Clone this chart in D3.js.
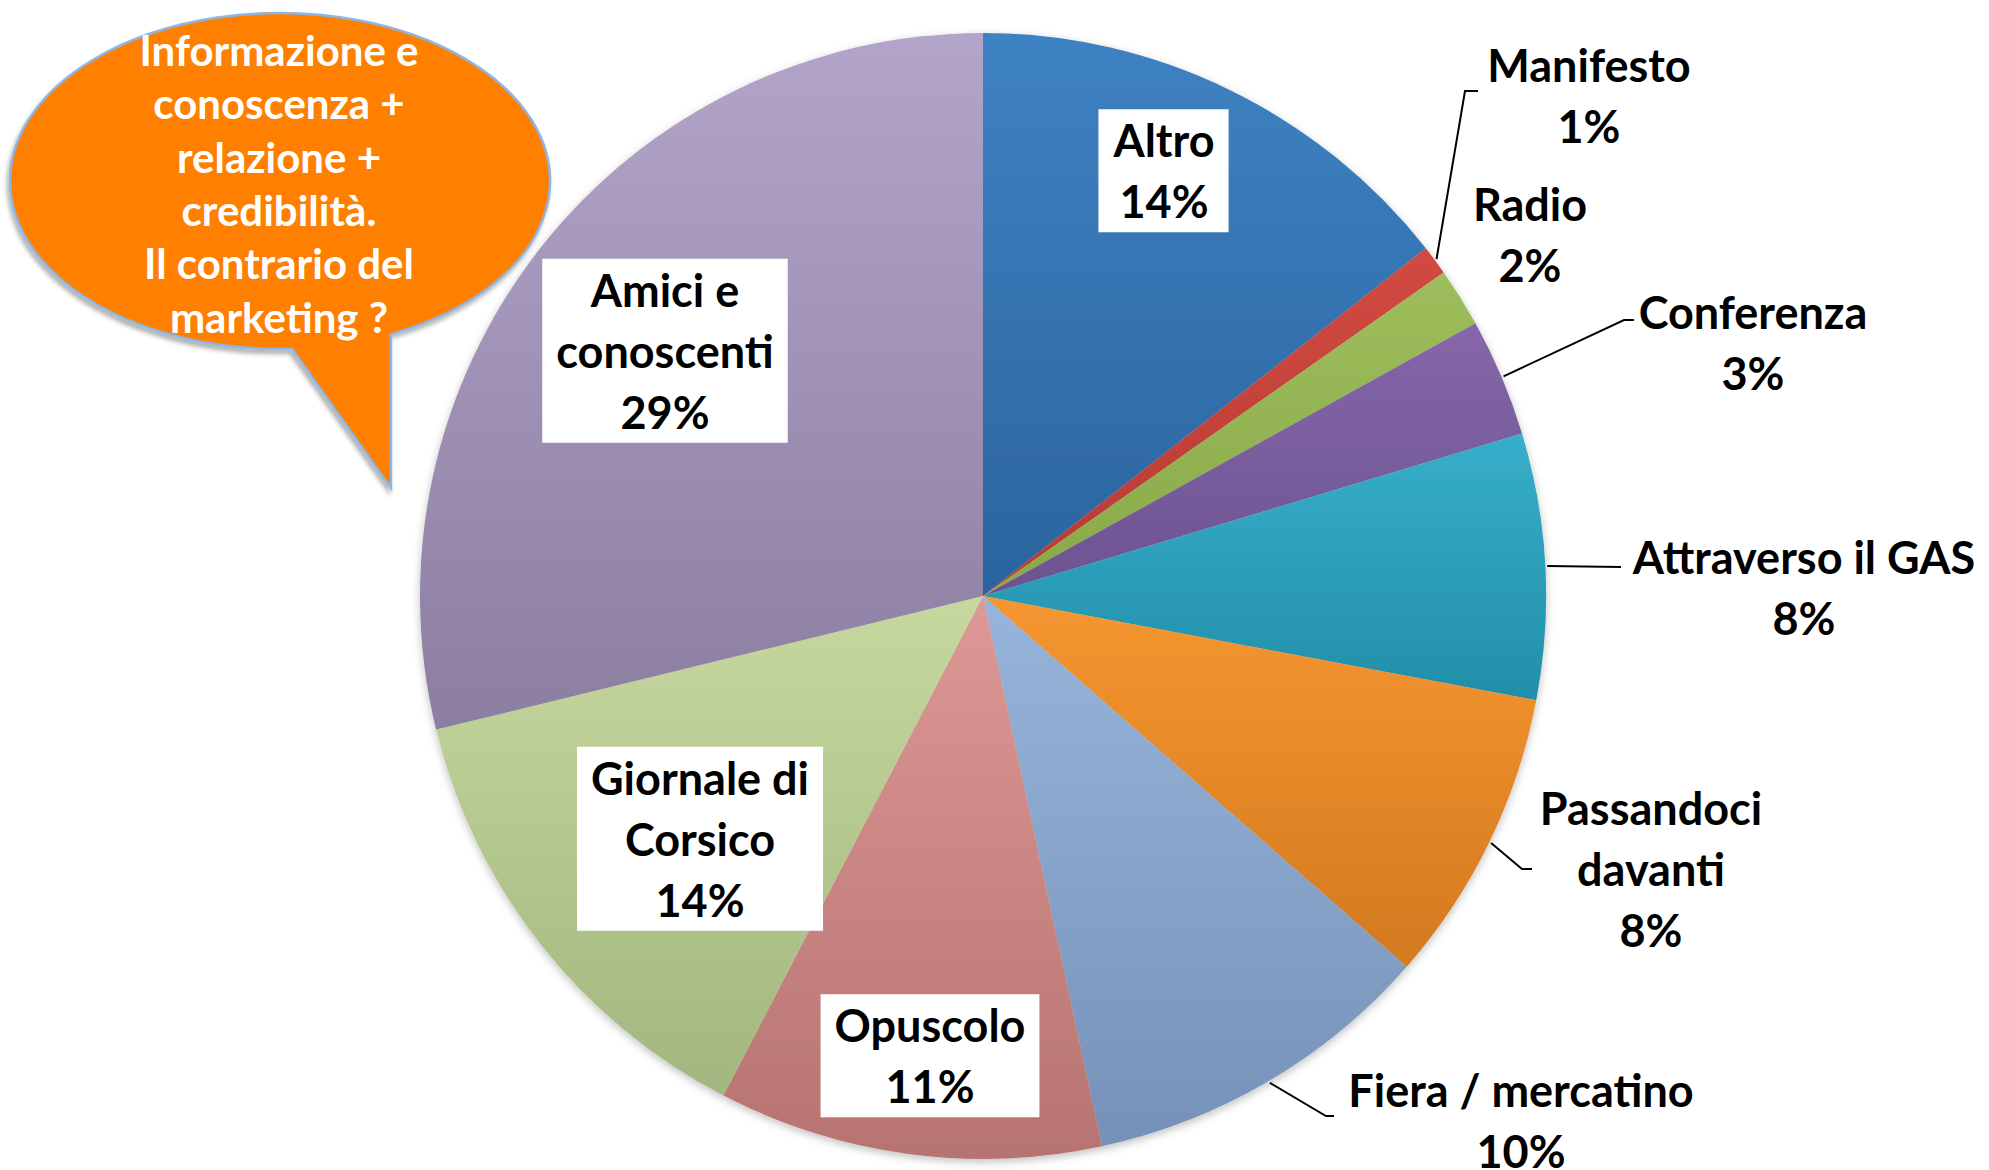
<!DOCTYPE html>
<html>
<head>
<meta charset="utf-8">
<script src="https://cdn.jsdelivr.net/npm/d3@7"></script>
<style>
  html, body { margin: 0; padding: 0; background: #fff; }
  svg { display: block; }
  text { font-family: Lato, "Open Sans", sans-serif; font-weight: 700; }
</style>
</head>
<body>
<div id="chart"></div>
<script>
// Data (clockwise from 12 o'clock), answer counts
const categories = ['Altro', 'Manifesto', 'Radio', 'Conferenza', 'Attraverso il GAS',
  'Passandoci davanti', 'Fiera / mercatino', 'Opuscolo', 'Giornale di Corsico', 'Amici e conoscenti'];
const values = [17, 1, 2, 4, 9, 10, 12, 13, 16, 34];
const labelLines = [
  ['Altro'], ['Manifesto'], ['Radio'], ['Conferenza'], ['Attraverso il GAS'],
  ['Passandoci', 'davanti'], ['Fiera / mercatino'], ['Opuscolo'], ['Giornale di', 'Corsico'], ['Amici e', 'conoscenti']
];
const calloutLines = ['Informazione e', 'conoscenza +', 'relazione +', 'credibilità.', 'Il contrario del', 'marketing ?'];

// slice gradient colours [top, bottom]
const sliceColors = [
  ['#3e82c3', '#2b649e'], ['#d24a42', '#b63a33'], ['#9ebe5c', '#88a948'], ['#8667aa', '#6c5390'],
  ['#37afca', '#228ea9'], ['#f69631', '#d27a1f'], ['#97b5da', '#7691b9'], ['#de9896', '#b67371'],
  ['#c6d89e', '#a2b67f'], ['#b3a5ca', '#8c7ea1']
];

// label placement, relative to the pie centre
const labelLayout = {
  'Altro':              { x: 181, y: -424, box: true },
  'Amici e conoscenti': { x: -318, y: -244, box: true },
  'Giornale di Corsico':{ x: -283, y: 244, box: true },
  'Opuscolo':           { x: -53, y: 461, box: true },
  'Manifesto':          { x: 606, y: -499, leader: [[482, -505], [495, -505]] },
  'Radio':              { x: 547, y: -360 },
  'Conferenza':         { x: 770, y: -252, leader: [[641, -276], [651, -276]] },
  'Attraverso il GAS':  { x: 821, y: -7, leader: [[638, -29]] },
  'Passandoci davanti': { x: 668, y: 274, leader: [[539, 273], [549, 273]] },
  'Fiera / mercatino':  { x: 538, y: 526, leader: [[343, 520], [351, 520]] }
};

const W = 1989, H = 1170;
const cx = 983, cy = 596, R = 563;
const fontSize = 45, lineH = 61;
const total = d3.sum(values);

const svg = d3.select('#chart').append('svg').attr('width', W).attr('height', H);
const defs = svg.append('defs');

sliceColors.forEach((c, i) => {
  const g = defs.append('linearGradient').attr('id', 'grad' + i)
    .attr('x1', 0).attr('y1', 0).attr('x2', 0).attr('y2', 1);
  g.append('stop').attr('offset', '0%').attr('stop-color', c[0]);
  g.append('stop').attr('offset', '100%').attr('stop-color', c[1]);
});

const shadow = defs.append('filter').attr('id', 'shadow')
  .attr('x', '-10%').attr('y', '-10%').attr('width', '120%').attr('height', '120%');
shadow.append('feDropShadow').attr('dx', 0).attr('dy', 3).attr('stdDeviation', 4)
  .attr('flood-color', '#000').attr('flood-opacity', 0.25);

const bubbleShadow = defs.append('filter').attr('id', 'bshadow')
  .attr('x', '-10%').attr('y', '-10%').attr('width', '120%').attr('height', '130%');
bubbleShadow.append('feDropShadow').attr('dx', -2).attr('dy', 4).attr('stdDeviation', 2)
  .attr('flood-color', '#000').attr('flood-opacity', 0.3);

// Pie
const pie = d3.pie().sort(null).value(d => d);
const arcs = pie(values);
const arc = d3.arc().innerRadius(0).outerRadius(R);
const edgeArc = d3.arc().innerRadius(R + 2).outerRadius(R + 2);

const g = svg.append('g').attr('transform', `translate(${cx},${cy})`);

g.append('g').attr('filter', 'url(#shadow)')
  .selectAll('path')
  .data(arcs)
  .join('path')
  .attr('d', arc)
  .attr('fill', (d, i) => `url(#grad${i})`);

// Leader lines
arcs.forEach((d, i) => {
  const lay = labelLayout[categories[i]];
  if (!lay.leader) return;
  const pts = [edgeArc.centroid(d), ...lay.leader];
  g.append('path')
    .attr('d', d3.line()(pts))
    .attr('fill', 'none')
    .attr('stroke', '#000')
    .attr('stroke-width', 2);
});

// Labels
arcs.forEach((d, i) => {
  const lay = labelLayout[categories[i]];
  const pct = Math.round(values[i] / total * 100);
  const lines = [...labelLines[i], `${pct}%`];
  const lg = g.append('g').attr('transform', `translate(${lay.x},${lay.y})`);
  const boxRect = lay.box ? lg.append('rect').attr('fill', '#fff') : null;
  const t = lg.append('text')
    .attr('text-anchor', 'middle')
    .attr('font-size', fontSize)
    .attr('fill', '#000');
  lines.forEach((ln, k) => {
    t.append('tspan')
      .attr('x', 0)
      .attr('y', (k - (lines.length - 1) / 2) * lineH)
      .attr('dy', '0.35em')
      .text(ln);
  });
  if (boxRect) {
    const bb = t.node().getBBox();
    const padX = 14, padY = 4;
    boxRect.attr('x', bb.x - padX).attr('y', bb.y - padY)
      .attr('width', bb.width + 2 * padX).attr('height', bb.height + 2 * padY);
  }
});

// Callout bubble
const bx = 280, by = 181, brx = 270, bry = 168;
const tailL = 292, tailR = 391, tipY = 488;
const yOn = x => by + bry * Math.sqrt(1 - Math.pow((x - bx) / brx, 2));
const bubblePath = `M${tailR},${yOn(tailR)} L${tailR},${tipY} L${tailL},${yOn(tailL)} ` +
  `A${brx},${bry} 0 1 1 ${tailR},${yOn(tailR)} Z`;

svg.append('path')
  .attr('d', bubblePath)
  .attr('fill', '#ff7f00')
  .attr('stroke', '#8fb6e0')
  .attr('stroke-width', 2.5)
  .attr('filter', 'url(#bshadow)');

const ct = svg.append('text')
  .attr('text-anchor', 'middle')
  .attr('font-size', 42)
  .attr('fill', '#fff');
calloutLines.forEach((ln, k) => {
  ct.append('tspan')
    .attr('x', 279)
    .attr('y', 51 + k * 53.4)
    .attr('dy', '0.35em')
    .text(ln);
});
</script>
</body>
</html>
